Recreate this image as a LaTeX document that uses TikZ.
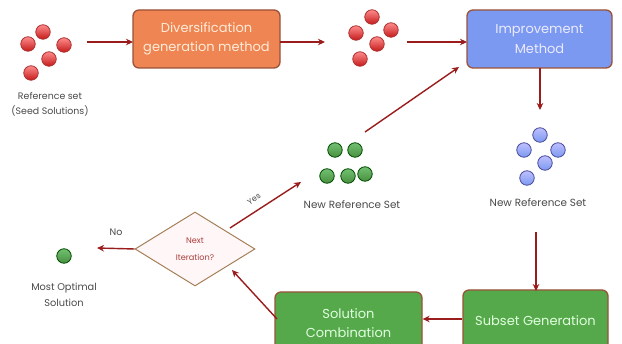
\documentclass[tikz,border=0pt]{standalone}
\usepackage{fontspec}
\setmainfont{Poppins}
\usetikzlibrary{arrows.meta,shapes.geometric}

\definecolor{arrowred}{HTML}{9B1C1C}
\definecolor{boxedge}{HTML}{9A5238}
\definecolor{orangefill}{HTML}{EF8552}
\definecolor{bluefill}{HTML}{7B99F0}
\definecolor{greenfill}{HTML}{56A94A}
\definecolor{labelgray}{HTML}{4A4A4A}

\tikzset{
  procbox/.style={draw=boxedge, line width=1.3pt, rounded corners=6pt,
    minimum width=#1, minimum height=58pt, inner sep=0pt, align=center,
    font=\fontsize{13}{19.5}\selectfont},
  flow/.style={draw=arrowred, line width=1.4pt,
    -{Stealth[length=7pt,width=6.5pt]}},
  caption/.style={text=labelgray, font=\fontsize{9.6}{15}\selectfont, align=center},
  dot/.style={circle, minimum size=14.5pt, inner sep=0pt, line width=0.8pt},
  reddot/.style={dot, draw=red!60!black!80, top color=red!45!white, bottom color=red!75!black!90},
  bluedot/.style={dot, draw=blue!45!black!70, top color=blue!25!white, bottom color=bluefill},
  greendot/.style={dot, draw=green!30!black, top color=green!55!black!55!white, bottom color=greenfill!85!black},
}

\begin{document}
\begin{tikzpicture}[x=1pt, y=-1pt]
  \useasboundingbox (0,0) rectangle (622,344);
  \clip (0,0) rectangle (622,344);
  \fill[white] (0,0) rectangle (622,344);

  % process boxes
  \node[procbox=147pt, fill=orangefill, text=orange!15!white] (div) at (206.5,39)
    {Diversification\\generation method};
  \node[procbox=145pt, fill=bluefill, text=blue!8!white] (imp) at (539.5,39)
    {Improvement\\Method};
  \node[procbox=147pt, minimum height=62pt, fill=greenfill, text=green!12!white] (comb) at (348.5,323)
    {Solution\\Combination};
  \node[procbox=145pt, minimum height=62pt, fill=greenfill, text=green!12!white] (sub) at (535.5,321)
    {Subset Generation};

  % decision
  \node[diamond, draw=brown!60!gray, line width=1pt, fill=red!3!white,
        minimum width=120pt, minimum height=74pt, inner sep=0pt, align=center,
        text=arrowred!85!white, font=\fontsize{8.2}{17}\selectfont] (dec) at (195,249)
    {Next\\Iteration?};

  % seed solutions
  \node[reddot] (s1) at (43,32) {};
  \node[reddot] (s2) at (28,44) {};
  \node[reddot] (s3) at (64,45) {};
  \node[reddot] (s4) at (49,59) {};
  \node[reddot] (s5) at (31,73) {};
  \node[caption, font=\fontsize{9.4}{15}\selectfont] (seedtxt) at (50,104.5)
    {Reference set\\(Seed Solutions)};

  % diversified solutions
  \node[reddot] (d1) at (372,17) {};
  \node[reddot] (d2) at (356,33) {};
  \node[reddot] (d3) at (391,30) {};
  \node[reddot] (d4) at (377,44) {};
  \node[reddot] (d5) at (360,59) {};

  % improved reference set
  \node[bluedot] (b1) at (540,135) {};
  \node[bluedot] (b2) at (524,150) {};
  \node[bluedot] (b3) at (558,150) {};
  \node[bluedot] (b4) at (545,163) {};
  \node[bluedot] (b5) at (527,178) {};
  \node[caption, font=\fontsize{10.4}{15}\selectfont] (bluetxt) at (538,203) {New Reference Set};

  % combined reference set
  \node[greendot] (g1) at (335,150) {};
  \node[greendot] (g2) at (355,150) {};
  \node[greendot] (g3) at (327,176) {};
  \node[greendot] (g4) at (348,176) {};
  \node[greendot] (g5) at (365,174) {};
  \node[caption, font=\fontsize{10.4}{15}\selectfont] (greentxt) at (352,205) {New Reference Set};

  % final answer
  \node[greendot] (best) at (64,256) {};
  \node[caption, font=\fontsize{9.8}{16}\selectfont] (besttxt) at (64,295) {Most Optimal\\Solution};

  % connector end points
  \coordinate (seedR) at (87,42);
  \coordinate (divL) at (133,42);
  \coordinate (divR) at (280,42);
  \coordinate (midL) at (325,42);
  \coordinate (midR) at (407,42);
  \coordinate (impL) at (467,42);
  \coordinate (impB) at (540,68);
  \coordinate (blueT) at (540,110);
  \coordinate (blueB) at (536,232);
  \coordinate (subT) at (536,291);
  \coordinate (greenT) at (365,132);
  \coordinate (impBL) at (459,67);
  \coordinate (combTL) at (277,319);
  \coordinate (decBR) at (232,270);
  \coordinate (decTR) at (230,228);
  \coordinate (yesEnd) at (301,182);
  \coordinate (noEnd) at (97,248);

  % connectors
  \draw[flow] (seedR) -- (divL);
  \draw[flow] (divR) -- (midL);
  \draw[flow] (midR) -- (impL);
  \draw[flow] (impB) -- (blueT);
  \draw[flow] (blueB) -- (subT);
  \draw[flow] (sub.west |- 0,319) -- (comb.east |- 0,319);
  \draw[flow] (combTL) -- (decBR);
  \draw[flow] (decTR) -- (yesEnd);
  \draw[flow] (dec.west) -- (noEnd);
  \draw[flow] (greenT) -- (impBL);

  % branch labels
  \node[text=labelgray, font=\fontsize{8}{9}\selectfont, rotate=33] (yes) at (254,199) {Yes};
  \node[text=labelgray, font=\fontsize{9.5}{11}\selectfont] (no) at (116,232) {No};
\end{tikzpicture}
\end{document}
